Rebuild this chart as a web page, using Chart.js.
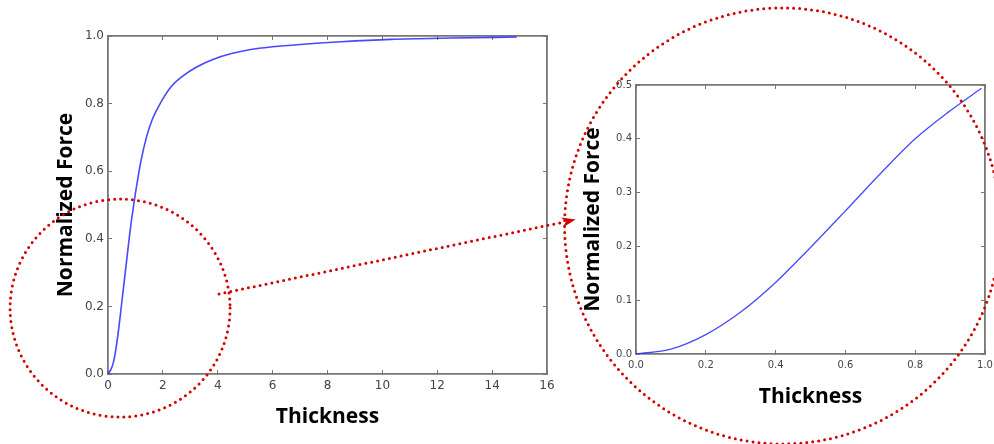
<!DOCTYPE html>
<html>
<head>
<meta charset="utf-8">
<script src="https://cdn.jsdelivr.net/npm/chart.js@4.4.1/dist/chart.umd.min.js"></script>
<style>
  html, body { margin: 0; padding: 0; background: #fff; }
  #page { position: relative; width: 994px; height: 444px; overflow: hidden; }
  .wrap { position: absolute; top: 0; height: 444px; }
  #leftWrap { left: 0; width: 560px; }
  #rightWrap { left: 560px; width: 434px; }
  #overlay { position: absolute; left: 0; top: 0; pointer-events: none; }
</style>
</head>
<body>
<div id="page">
  <div class="wrap" id="leftWrap"><canvas id="leftChart"></canvas></div>
  <div class="wrap" id="rightWrap"><canvas id="rightChart"></canvas></div>
  <canvas id="overlay" width="994" height="444"></canvas>
</div>
<script>
// full curve (left panel)
const fullThickness = [0, 0.1, 0.2, 0.3, 0.4, 0.5, 0.6, 0.7, 0.8, 0.9, 1.0, 1.1, 1.2, 1.4, 1.6, 1.9, 2.3, 2.7, 3.2, 3.8, 4.5, 5.2, 6.0, 7.0, 8.5, 10.3, 12.5, 14.9];
const fullForce     = [0, 0.012, 0.035, 0.08, 0.14, 0.21, 0.28, 0.35, 0.42, 0.48, 0.535, 0.585, 0.63, 0.70, 0.75, 0.80, 0.85, 0.88, 0.907, 0.93, 0.948, 0.96, 0.968, 0.975, 0.983, 0.99, 0.994, 0.997];

// zoomed curve (right panel)
const zoomThickness = [0, 0.1, 0.2, 0.3, 0.4, 0.5, 0.6, 0.7, 0.8, 0.9, 0.99];
const zoomForce     = [0, 0.009, 0.036, 0.078, 0.133, 0.198, 0.266, 0.335, 0.4, 0.452, 0.494];

// [min, max, step]
const fullXTicks = [0, 16, 2];
const fullYTicks = [0, 1.0, 0.2];
const zoomXTicks = [0, 1.0, 0.2];
const zoomYTicks = [0, 0.5, 0.1];

const LINE = 'rgba(40,40,255,0.85)';
const FRAME = '#777';
const TICK_TXT = '#444';
const TITLE_FONT = { family: '"Open Sans", sans-serif', size: 21, weight: 'bold' };

let leftChart = null;
let rightChart = null;

function toXY(xs, ys) {
  return xs.map((x, i) => ({ x, y: ys[i] }));
}

function axis(pos, ticks, opts) {
  const horiz = pos === 'top' || pos === 'bottom';
  const primary = pos === 'bottom' || pos === 'left';
  const dec = horiz ? opts.xDec : opts.yDec;
  return {
    type: 'linear',
    position: pos,
    min: ticks[0],
    max: ticks[1],
    border: { display: true, color: FRAME, width: 1.8 },
    grid: { drawOnChartArea: false, drawTicks: true, tickLength: -4, color: FRAME, lineWidth: 1 },
    ticks: {
      display: primary,
      stepSize: ticks[2],
      color: TICK_TXT,
      font: { family: '"DejaVu Sans", sans-serif', size: opts.tickSize },
      padding: horiz ? 9 : 8,
      maxRotation: 0,
      autoSkip: false,
      callback: v => v.toFixed(dec)
    },
    title: primary ? {
      display: true,
      text: horiz ? 'Thickness' : 'Normalized Force',
      color: '#000',
      font: TITLE_FONT,
      padding: horiz ? { top: 0, bottom: opts.xTitlePad } : { top: opts.yTitlePad, bottom: 0 }
    } : { display: false },
    afterFit: s => {
      // layout.padding alone sets the plot frame, labels may overhang it
      s.paddingLeft = s.paddingRight = s.paddingTop = s.paddingBottom = 0;
      if (!primary) { if (horiz) s.height = 0; else s.width = 0; }
      else if (horiz) s.height = opts.xAxisH;
      else s.width = opts.yAxisW;
    }
  };
}

function makeChart(id, xs, ys, xT, yT, opts) {
  return new Chart(document.getElementById(id), {
    type: 'line',
    data: {
      datasets: [{
        data: toXY(xs, ys),
        borderColor: LINE,
        borderWidth: opts.lineW,
        pointRadius: 0,
        fill: false,
        cubicInterpolationMode: 'monotone'
      }]
    },
    options: {
      responsive: true,
      maintainAspectRatio: false,
      animation: false,
      parsing: false,
      layout: { padding: opts.padding },
      plugins: { legend: { display: false }, tooltip: { enabled: false } },
      scales: {
        x: axis('bottom', xT, opts),
        y: axis('left', yT, opts),
        x2: axis('top', xT, opts),
        y2: axis('right', yT, opts)
      }
    },
    plugins: [{ id: 'overlayHook', afterRender: () => drawOverlay() }]
  });
}

// dotted red callouts: circle round the start of the curve, arrow, circle round the zoom panel
function dottedCircle(ctx, cx, cy, rx, ry) {
  ctx.beginPath();
  ctx.ellipse(cx, cy, rx, ry, 0, 0, Math.PI * 2);
  ctx.stroke();
}

function drawOverlay() {
  if (!leftChart || !rightChart || !leftChart.chartArea || !rightChart.chartArea) return;
  const ov = document.getElementById('overlay');
  const ctx = ov.getContext('2d');
  ctx.clearRect(0, 0, ov.width, ov.height);
  const ls = leftChart.scales, rs = rightChart.scales;
  const rOff = 560;

  ctx.strokeStyle = '#d40000';
  ctx.fillStyle = '#d40000';
  ctx.lineWidth = 3;
  ctx.lineCap = 'round';
  ctx.setLineDash([0, 6]);

  const c1x = ls.x.getPixelForValue(0.44), c1y = ls.y.getPixelForValue(0.195);
  dottedCircle(ctx, c1x, c1y, 110, 109);

  const c2x = rOff + rs.x.getPixelForValue(0.42), c2y = rs.y.getPixelForValue(0.238);
  dottedCircle(ctx, c2x, c2y, 218, 218);

  // arrow from small circle to big circle
  const ax1 = 219, ay1 = 294, ax2 = 564, ay2 = 222;
  ctx.beginPath();
  ctx.moveTo(ax1, ay1);
  ctx.lineTo(ax2, ay2);
  ctx.stroke();
  ctx.setLineDash([]);
  const ang = Math.atan2(ay2 - ay1, ax2 - ax1);
  ctx.save();
  ctx.translate(ax2 + 12 * Math.cos(ang), ay2 + 12 * Math.sin(ang));
  ctx.rotate(ang);
  ctx.beginPath();
  ctx.moveTo(0, 0);
  ctx.lineTo(-14, -5);
  ctx.lineTo(-10, 0);
  ctx.lineTo(-14, 5);
  ctx.closePath();
  ctx.fill();
  ctx.restore();
}

leftChart = makeChart('leftChart', fullThickness, fullForce, fullXTicks, fullYTicks, {
  tickSize: 12, xDec: 0, yDec: 1, lineW: 1.6,
  padding: { top: 36, right: 13, left: 0, bottom: 0 },
  xAxisH: 70, yAxisW: 108, xTitlePad: 14, yTitlePad: 53
});

rightChart = makeChart('rightChart', zoomThickness, zoomForce, zoomXTicks, zoomYTicks, {
  tickSize: 10, xDec: 1, yDec: 1, lineW: 1.3,
  padding: { top: 85, right: 9, left: 0, bottom: 0 },
  xAxisH: 90, yAxisW: 76, xTitlePad: 34, yTitlePad: 20
});

drawOverlay();
</script>
</body>
</html>
